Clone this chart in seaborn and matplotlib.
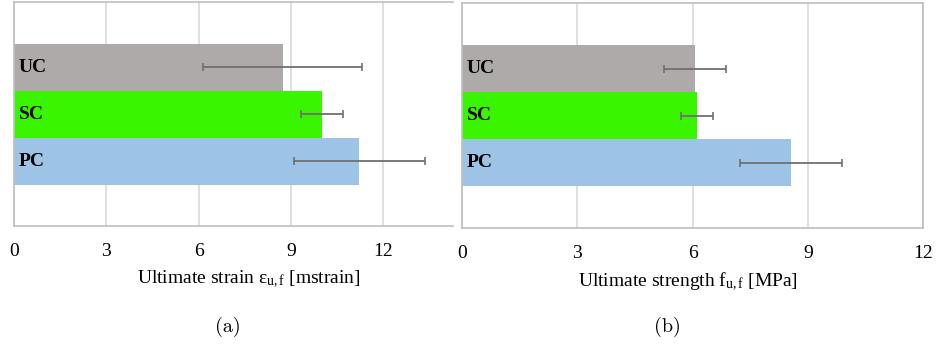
import matplotlib
matplotlib.use("Agg")
import matplotlib.pyplot as plt
import matplotlib.transforms as mtransforms
import seaborn as sns
import pandas as pd

# Specimen groups and measured results (mean and standard deviation)
groups = ["UC", "SC", "PC"]
strain_mean = [8.73, 10.00, 11.23]
strain_std = [2.59, 0.68, 2.13]
strength_mean = [6.07, 6.12, 8.56]
strength_std = [0.80, 0.41, 1.32]
tick_values = [0, 3, 6, 9, 12]
group_colors = ["#aeaaaa", "#3af500", "#9dc3e6"]

sns.set_theme(style="white")
plt.rcParams["font.family"] = ["Liberation Serif", "DejaVu Serif"]
plt.rcParams["mathtext.fontset"] = "custom"
plt.rcParams["mathtext.rm"] = "Liberation Serif"
plt.rcParams["mathtext.it"] = "Liberation Serif:italic"
plt.rcParams["text.color"] = "black"
plt.rcParams["axes.labelcolor"] = "black"
plt.rcParams["xtick.color"] = "black"

fig = plt.figure(figsize=(9.38, 3.45), dpi=100)
W, H = 938.0, 345.0
ax_a = fig.add_axes([14 / W, 1 - 226 / H, 439 / W, 224 / H])
ax_b = fig.add_axes([462 / W, 1 - 228 / H, 461 / W, 225 / H])

spine_color = "#bfbfbf"
grid_color = "#d9d9d9"


def draw_panel(ax, means, stds, xmax, xlabel, label_x, show_right):
    df = pd.DataFrame({"group": groups, "value": means})
    sns.barplot(data=df, x="value", y="group", hue="group", palette=group_colors,
                order=groups, hue_order=groups, orient="h", width=1.0,
                errorbar=None, legend=False, saturation=1.0, linewidth=0,
                edgecolor="none", ax=ax, zorder=2)
    ax.errorbar(means, range(len(groups)), xerr=stds, fmt="none",
                ecolor="#707070", elinewidth=1.3, capsize=3.2, capthick=1.2,
                zorder=3)
    ax.set_xlim(0, xmax)
    ax.set_ylim(3.38, -1.39)
    ax.set_xticks(tick_values)
    ax.set_xticklabels([str(v) for v in tick_values], fontsize=14)
    ax.tick_params(axis="x", length=0, pad=12, colors="black")
    ax.set_yticks([])
    ax.set_ylabel("")
    ax.set_xlabel(xlabel, fontsize=14, color="black")
    ax.xaxis.set_label_coords(label_x, -0.19)
    ax.grid(axis="x", color=grid_color, linewidth=1.2, zorder=0)
    ax.set_axisbelow(True)
    for side in ["left", "bottom", "top", "right"]:
        ax.spines[side].set_color(spine_color)
        ax.spines[side].set_linewidth(1.2)
    ax.spines["right"].set_visible(show_right)
    trans = mtransforms.blended_transform_factory(ax.transAxes, ax.transData)
    for i, g in enumerate(groups):
        ax.text(0.011, i, g, transform=trans, ha="left", va="center",
                fontsize=14, fontweight="bold", color="black", zorder=4)


draw_panel(ax_a, strain_mean, strain_std, 14.27,
           r"Ultimate strain ε$_{\mathrm{u,f}}$ [mstrain]", 0.535, False)
draw_panel(ax_b, strength_mean, strength_std, 12,
           r"Ultimate strength f$_{\mathrm{u,f}}$ [MPa]", 0.49, True)

fig.text(228 / W, 1 - 327 / H, "(a)", family="cmr10", fontsize=14.5,
         ha="center", va="center")
fig.text(667 / W, 1 - 327 / H, "(b)", family="cmr10", fontsize=14.5,
         ha="center", va="center")

fig.savefig("out.png", dpi=100)
